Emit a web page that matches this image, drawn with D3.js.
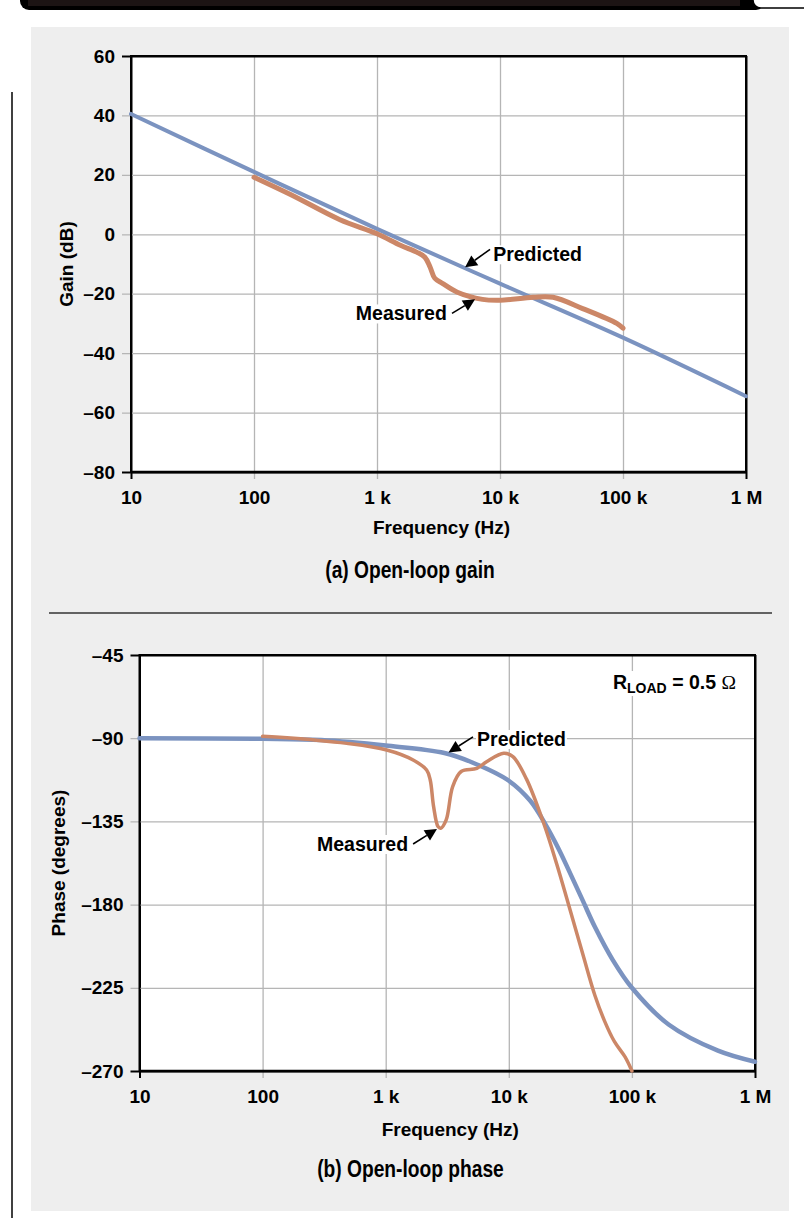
<!DOCTYPE html>
<html>
<head>
<meta charset="utf-8">
<script src="https://cdn.jsdelivr.net/npm/d3@7"></script>
<style>
  body { margin: 0; background: #fff; }
  svg text { font-family: "Liberation Sans", Arial, sans-serif; font-weight: bold; fill: #000; }
</style>
</head>
<body>
<div id="chart"></div>
<script>
// ---- data ----
var freqTicks = [10, 100, 1e3, 1e4, 1e5, 1e6];
var freqLabels = ["10", "100", "1 k", "10 k", "100 k", "1 M"];
var gainTicks = [60, 40, 20, 0, -20, -40, -60, -80];
var phaseTicks = [-45, -90, -135, -180, -225, -270];

// (a) open-loop gain, dB
var gainPredFreq = [10, 100, 1e3, 1e4, 1e5, 1e6];
var gainPredDb = [40.5, 21, 1.8, -16.6, -34.8, -54.5];
var gainMeasFreq = [100, 200, 500, 1000, 1550, 2100, 2450, 2700, 2950, 3400, 4500, 7200, 10000, 18600, 27000, 47000, 89000, 100000];
var gainMeasDb = [19.2, 13.3, 4.9, 0.2, -3.7, -6, -7.7, -11, -14.8, -16.5, -19.5, -21.9, -22.2, -21.2, -21.2, -25, -30, -31.6];

// (b) open-loop phase, degrees
var phasePredFreq = [10, 100, 300, 1000, 3000, 5000, 10000, 15000, 20000, 25000, 30000, 40000, 50000, 70000, 100000, 200000, 500000, 1000000];
var phasePredDeg = [-90, -90.3, -91, -94, -98, -103, -113, -124, -137, -149, -160, -178, -192, -210, -225, -245, -259, -265];
var phaseMeasFreq = [100, 138, 482, 1020, 1670, 2150, 2300, 2450, 2660, 2800, 3100, 3500, 4100, 5500, 6600, 9100, 10800, 13900, 19200, 24500, 30000, 40000, 50000, 60000, 72000, 88000, 100000];
var phaseMeasDeg = [-89, -89.5, -92.8, -96.4, -101.8, -107.2, -112.6, -127, -137.8, -138.7, -134.2, -116.2, -108, -106.3, -102.7, -98.2, -100, -112, -136, -158, -178, -207, -229, -243, -254, -262.4, -270];

var blue = "#7b93c0";
var orange = "#cc8767";
var gridColor = "#b5b5b5";

var svg = d3.select("#chart").append("svg")
    .attr("width", 804)
    .attr("height", 1218);

// page decoration: top bar, left rule, grey panel, separator
svg.append("rect").attr("x", 20).attr("y", -12).attr("width", 745).attr("height", 22).attr("rx", 9).attr("fill", "#000");
svg.append("rect").attr("x", 28).attr("y", -12).attr("width", 712).attr("height", 18).attr("fill", "#1c1414");
svg.append("rect").attr("x", 753).attr("y", -12).attr("width", 70).attr("height", 20).attr("rx", 8)
    .attr("fill", "#fff").attr("stroke", "#000").attr("stroke-width", 1.5);
svg.append("line").attr("x1", 12).attr("x2", 12).attr("y1", 92).attr("y2", 1218).attr("stroke", "#000").attr("stroke-width", 1.5);
svg.append("rect").attr("x", 31).attr("y", 27).attr("width", 758).attr("height", 1184).attr("fill", "#eeeeee");
svg.append("line").attr("x1", 49).attr("x2", 772).attr("y1", 613).attr("y2", 613).attr("stroke", "#333").attr("stroke-width", 1.5);

function fmtNeg(d) { return d < 0 ? "\u2013" + (-d) : "" + d; }

function drawPanel(cfg) {
  var w = cfg.width, h = cfg.height;
  var g = svg.append("g").attr("transform", "translate(" + cfg.left + "," + cfg.top + ")");

  var x = d3.scaleLog().domain([10, 1e6]).range([0, w]);
  var y = d3.scaleLinear().domain(cfg.yDomain).range([h, 0]);

  g.append("rect").attr("width", w).attr("height", h).attr("fill", "#fff");

  // x grid + ticks
  var xa = g.append("g")
      .attr("transform", "translate(0," + (h + 7) + ")")
      .call(d3.axisBottom(x).tickValues(freqTicks)
        .tickFormat(function(d, i) { return freqLabels[i]; })
        .tickSizeInner(-(h + 7)).tickSizeOuter(0).tickPadding(12));
  xa.select(".domain").remove();
  xa.selectAll("line").attr("stroke", function(d, i) { return (i === 0 || i === freqTicks.length - 1) ? "#000" : gridColor; })
      .attr("stroke-width", function(d, i) { return (i === 0 || i === freqTicks.length - 1) ? 2 : 1.3; });
  xa.selectAll("text").attr("font-size", 19).attr("fill", "#000");

  // y grid + ticks
  var ya = g.append("g")
      .attr("transform", "translate(-9,0)")
      .call(d3.axisLeft(y).tickValues(cfg.yTicks).tickFormat(fmtNeg)
        .tickSizeInner(-(w + 9)).tickSizeOuter(0).tickPadding(7));
  ya.select(".domain").remove();
  ya.selectAll("line").attr("stroke", function(d, i) { return (i === 0 || i === cfg.yTicks.length - 1) ? "#000" : gridColor; })
      .attr("stroke-width", function(d, i) { return (i === 0 || i === cfg.yTicks.length - 1) ? 2 : 1.3; });
  ya.selectAll("text").attr("font-size", 19).attr("fill", "#000");

  // frame
  g.append("rect").attr("width", w).attr("height", h).attr("fill", "none").attr("stroke", "#000").attr("stroke-width", 2);
  g.append("line").attr("x1", 0).attr("x2", w).attr("y1", h).attr("y2", h).attr("stroke", "#000").attr("stroke-width", 2.6);

  var line = d3.line()
      .x(function(d) { return x(d[0]); })
      .y(function(d) { return y(d[1]); })
      .curve(d3.curveCatmullRom.alpha(0.5));

  var pred = d3.zip(cfg.predFreq, cfg.predVal);
  var meas = d3.zip(cfg.measFreq, cfg.measVal);

  g.append("path").datum(pred).attr("d", line).attr("fill", "none")
      .attr("stroke", blue).attr("stroke-width", cfg.predWidth).attr("stroke-linecap", "round");
  g.append("path").datum(meas).attr("d", line).attr("fill", "none")
      .attr("stroke", orange).attr("stroke-width", cfg.measWidth).attr("stroke-linecap", "round").attr("stroke-linejoin", "round");

  // annotations (positions in data units)
  cfg.notes.forEach(function(n) {
    var tx = x(n.at[0]), ty = y(n.at[1]);
    var t = g.append("text").attr("x", tx).attr("y", ty).attr("font-size", 19.5)
        .attr("text-anchor", n.anchor).text(n.label);
    var bb = t.node().getBBox();
    g.insert("rect", function() { return t.node(); })
        .attr("x", bb.x - 1).attr("y", bb.y + 2).attr("width", bb.width + 2).attr("height", bb.height - 3)
        .attr("fill", "#fff");
    var x1 = x(n.from[0]), y1 = y(n.from[1]), x2 = x(n.to[0]), y2 = y(n.to[1]);
    var ang = Math.atan2(y2 - y1, x2 - x1), L = 12, hw = 6;
    var bx = x2 - L * Math.cos(ang), by = y2 - L * Math.sin(ang);
    g.append("line").attr("x1", x1).attr("y1", y1).attr("x2", bx).attr("y2", by)
        .attr("stroke", "#000").attr("stroke-width", 1.6);
    g.append("path")
        .attr("d", "M" + x2 + "," + y2 +
          "L" + (bx + hw * Math.sin(ang)) + "," + (by - hw * Math.cos(ang)) +
          "L" + (bx - hw * Math.sin(ang)) + "," + (by + hw * Math.cos(ang)) + "Z")
        .attr("fill", "#000");
  });

  // axis titles and caption
  g.append("text").attr("x", w / 2 + 3).attr("y", h + cfg.xTitleDy).attr("text-anchor", "middle")
      .attr("font-size", 19).text("Frequency (Hz)");
  g.append("text").attr("transform", "translate(" + cfg.yTitleX + "," + (h / 2) + ") rotate(-90)")
      .attr("text-anchor", "middle").attr("font-size", 19).text(cfg.yTitle);
  // caption is set in a narrow face: squeeze the bold sans horizontally
  g.append("text").attr("transform", "translate(" + cfg.captionX + "," + (h + cfg.captionDy) + ") scale(0.8,1)")
      .attr("text-anchor", "middle").attr("font-size", 24).text(cfg.caption);

  return { g: g, x: x, y: y };
}

drawPanel({
  left: 131, top: 56, width: 615, height: 416,
  yDomain: [-80, 60], yTicks: gainTicks,
  predFreq: gainPredFreq, predVal: gainPredDb,
  measFreq: gainMeasFreq, measVal: gainMeasDb,
  predWidth: 4, measWidth: 5,
  xTitleDy: 62, yTitleX: -58, yTitle: "Gain (dB)",
  captionX: 279, captionDy: 106, caption: "(a) Open-loop gain",
  notes: [
    { label: "Predicted", anchor: "start", at: [8800, -9.1], from: [8300, -5.05], to: [5200, -11.1] },
    { label: "Measured", anchor: "end", at: [3700, -29], from: [4070, -26.6], to: [6270, -21.9] }
  ]
});

var phase = drawPanel({
  left: 139.5, top: 655, width: 615.5, height: 416,
  yDomain: [-270, -45], yTicks: phaseTicks,
  predFreq: phasePredFreq, predVal: phasePredDeg,
  measFreq: phaseMeasFreq, measVal: phaseMeasDeg,
  predWidth: 4.5, measWidth: 3.5,
  xTitleDy: 65, yTitleX: -75, yTitle: "Phase (degrees)",
  captionX: 271, captionDy: 106, caption: "(b) Open-loop phase",
  notes: [
    { label: "Predicted", anchor: "start", at: [5520, -94.2], from: [5120, -89.3], to: [3240, -97.7] },
    { label: "Measured", anchor: "end", at: [1520, -151], from: [1670, -147.2], to: [2610, -139.1] }
  ]
});

// load resistance label
var rl = phase.g.append("text").attr("x", phase.x(70200)).attr("y", phase.y(-63.4)).attr("font-size", 19.5);
rl.append("tspan").text("R");
rl.append("tspan").attr("font-size", 14).attr("dy", 4).text("LOAD");
rl.append("tspan").attr("dy", -4).text(" = 0.5 ");
rl.append("tspan").style("font-family", "'Liberation Serif', serif").style("font-weight", "normal").text("\u03A9");
var rb = rl.node().getBBox();
phase.g.insert("rect", function() { return rl.node(); })
    .attr("x", rb.x - 2).attr("y", rb.y).attr("width", rb.width + 4).attr("height", rb.height)
    .attr("fill", "#fff");
</script>
</body>
</html>
